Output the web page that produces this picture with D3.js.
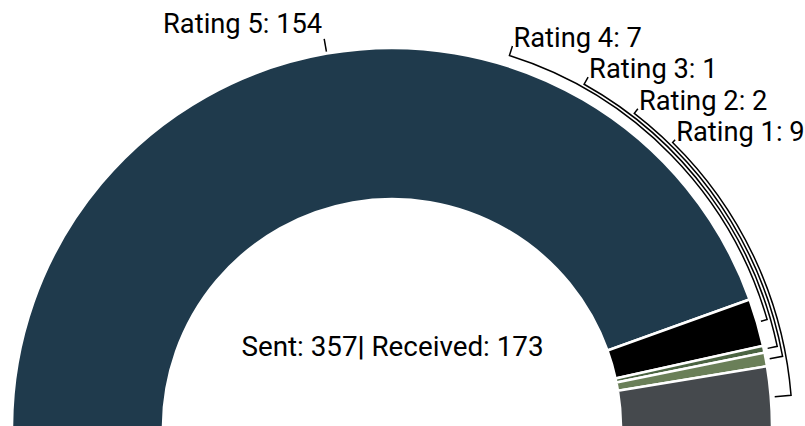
<!DOCTYPE html>
<html>
<head>
<meta charset="utf-8">
<script src="https://cdn.jsdelivr.net/npm/d3@7"></script>
<style>
  body { margin: 0; background: #fff; }
  svg { display: block; font-family: Roboto, sans-serif; }
</style>
</head>
<body>
<div id="chart"></div>
<script>
// data
const ratings = ["Rating 5", "Rating 4", "Rating 3", "Rating 2", "Rating 1"];
const counts = [154, 7, 1, 2, 9];
const colors = ["#1f3a4c", "#000000", "#4b6442", "#6a7f58", "#45494d"];
const sentCount = 357;
const receivedCount = 173;

// layout
const width = 805, height = 426;
const cx = 392, cy = 428;
const rOuter = 380, rInner = 229;
// label routing for the small slices (angle where the label sits, and arc radius)
const labelDeg = [null, 17.5, 29.2, 37.6, 44.5];
const routeR = [null, 390.5, 393.8, 397.1, 400.4];
const tipR = [395, 400.5, 402, 403, 404];

const data = ratings.map((r, i) => ({ rating: r, value: counts[i], color: colors[i] }));

const svg = d3.select("#chart")
    .append("svg")
    .attr("width", width)
    .attr("height", height);

const g = svg.append("g")
    .attr("transform", `translate(${cx},${cy})`);

const pie = d3.pie()
    .sort(null)
    .startAngle(-Math.PI / 2)
    .endAngle(Math.PI / 2)
    .value(d => d.value);

const arc = d3.arc()
    .innerRadius(rInner)
    .outerRadius(rOuter);

const arcs = pie(data);

g.selectAll(".slice")
    .data(arcs)
    .enter()
    .append("path")
    .attr("class", "slice")
    .attr("d", arc)
    .style("fill", d => d.data.color)
    .style("stroke", "#fff")
    .style("stroke-width", 2.5);

const pt = (a, r) => [r * Math.sin(a), -r * Math.cos(a)];

// leader lines
arcs.forEach((d, i) => {
    const mid = (d.startAngle + d.endAngle) / 2;
    let path, end;
    if (i === 0) {
        const p0 = pt(mid, 382);
        end = pt(mid, tipR[0]);
        path = `M${p0}L${end}`;
    } else {
        const la = labelDeg[i] * Math.PI / 180;
        const r = routeR[i];
        const p0 = pt(mid, 384);
        const p1 = pt(mid, r);
        const p2 = pt(la, r);
        end = pt(la, tipR[i]);
        path = `M${p0}L${p1}A${r},${r} 0 0 0 ${p2}L${end}`;
    }
    g.append("path")
        .attr("d", path)
        .style("fill", "none")
        .style("stroke", "#000")
        .style("stroke-width", 1.5);

    g.append("text")
        .attr("x", i === 0 ? end[0] - 2 : end[0] + 1)
        .attr("y", i === 0 ? end[1] - 6 : end[1] + 1)
        .attr("text-anchor", i === 0 ? "end" : "start")
        .style("font-size", "27.3px")
        .style("fill", "#000")
        .text(`${d.data.rating}: ${d.data.value}`);
});

// centre text
const centre = g.append("text")
    .attr("x", 0.5)
    .attr("y", -72)
    .attr("text-anchor", "middle")
    .style("font-size", "27.8px")
    .style("fill", "#000");
centre.append("tspan").text(`Sent: ${sentCount}`);
centre.append("tspan").style("font-weight", "bold").text("|");
centre.append("tspan").text(` Received: ${receivedCount}`);
</script>
</body>
</html>
